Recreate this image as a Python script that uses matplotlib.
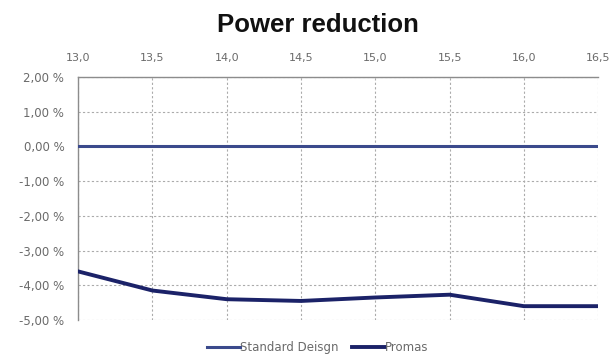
import matplotlib

matplotlib.use("Agg")
import matplotlib.pyplot as plt
import matplotlib.ticker as mticker

# ── data ──────────────────────────────────────────────────────────────────────
SPEED = [13.0, 13.5, 14.0, 14.5, 15.0, 15.5, 16.0, 16.5]
STANDARD = [0.0, 0.0, 0.0, 0.0, 0.0, 0.0, 0.0, 0.0]
PROMAS = [-3.6, -4.15, -4.4, -4.45, -4.35, -4.27, -4.6, -4.6]
Y_TICKS = [2, 1, 0, -1, -2, -3, -4, -5]

C_STD = "#3b4a8c"
C_PROMAS = "#1b2268"
GRID_COL = "#ababab"
LABEL_COL = "#6a6a6a"


def comma(v, decimals):
    return f"{v:.{decimals}f}".replace(".", ",")


def main():
    fig = plt.figure(figsize=(6.11, 3.58), dpi=100)
    ax = fig.add_axes([0.128, 0.106, 0.851, 0.679])

    ax.plot(SPEED, STANDARD, color=C_STD, linewidth=2.2, label="Standard Deisgn", zorder=3)
    ax.plot(SPEED, PROMAS, color=C_PROMAS, linewidth=2.8, label="Promas", zorder=3)

    ax.set_xlim(SPEED[0], SPEED[-1])
    ax.set_ylim(-5, 2)
    ax.set_xticks(SPEED)
    ax.set_yticks(Y_TICKS)
    ax.xaxis.set_major_formatter(mticker.FuncFormatter(lambda v, _: comma(v, 1)))
    ax.yaxis.set_major_formatter(mticker.FuncFormatter(lambda v, _: comma(v, 2) + " %"))
    ax.xaxis.tick_top()

    ax.tick_params(axis="x", length=0, labelsize=8, colors=LABEL_COL, pad=10)
    ax.tick_params(axis="y", length=0, labelsize=8.5, colors=LABEL_COL, pad=10)
    ax.grid(True, color=GRID_COL, linestyle=(0, (2, 2)), linewidth=0.8, zorder=0)

    for side in ["right", "bottom"]:
        ax.spines[side].set_visible(False)
    for side in ["left", "top"]:
        ax.spines[side].set_color("#8c8c8c")
        ax.spines[side].set_linewidth(1.0)

    fig.text(0.52, 0.93, "Power reduction", ha="center", va="center",
             fontsize=18.5, fontweight="bold", family="Liberation Sans", color="#111111")

    fig.legend(loc="center", bbox_to_anchor=(0.52, 0.028), ncol=2,
               frameon=False, fontsize=8.5, labelcolor=LABEL_COL,
               handlelength=2.8, handletextpad=0.0, columnspacing=1.1)

    fig.savefig("out.png", dpi=100, facecolor="white")
    plt.close(fig)


if __name__ == "__main__":
    main()
